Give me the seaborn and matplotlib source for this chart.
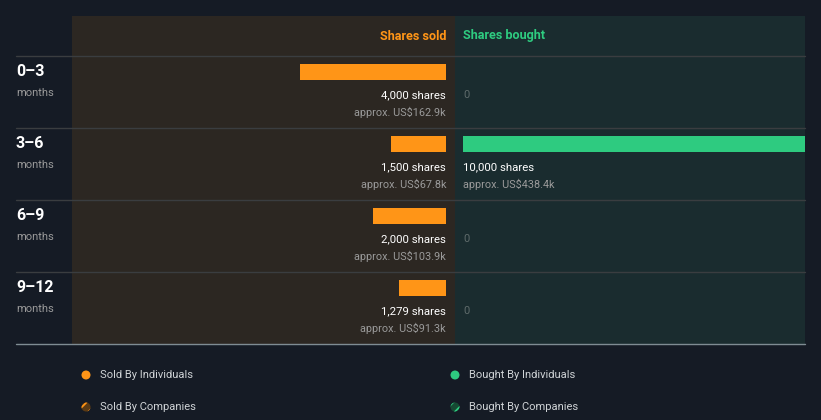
import matplotlib
matplotlib.use("Agg")
import matplotlib.pyplot as plt
import seaborn as sns
import pandas as pd
from matplotlib.patches import Circle

# ---- data ----
periods = ["0\u20133", "3\u20136", "6\u20139", "9\u201312"]
shares_sold = [4000, 1500, 2000, 1279]
value_sold_k = [162.9, 67.8, 103.9, 91.3]
shares_bought = [0, 10000, 0, 0]
value_bought_k = [0, 438.4, 0, 0]
legend_labels = ["Sold By Individuals", "Bought By Individuals",
                 "Sold By Companies", "Bought By Companies"]

# ---- style ----
BG = "#151b25"
SOLD_BG = "#2c2722"
BOUGHT_BG = "#1a2c2f"
ORANGE = "#ff9517"
GREEN = "#2ecb80"
WHITE = "#ffffff"
GREY = "#9a9a9a"
DIM = "#5f6b6b"
SEP = "#3a3d40"

sns.set_theme(style="white")
plt.rcParams["font.family"] = ["Roboto", "DejaVu Sans"]
plt.rcParams["hatch.linewidth"] = 1.3

W, H = 821, 420
fig = plt.figure(figsize=(W / 100, H / 100), dpi=100, facecolor=BG)

def rect(x0, y0, x1, y1):
    return [x0 / W, 1 - y1 / H, (x1 - x0) / W, (y1 - y0) / H]

df = pd.DataFrame({"period": periods, "sold": shares_sold, "bought": shares_bought})

ax_s = fig.add_axes(rect(72, 16, 455, 344))
ax_b = fig.add_axes(rect(455, 16, 805, 344))

bar_w = 16 / 72
sns.barplot(data=df, x="sold", y="period", orient="h", ax=ax_s, color=ORANGE,
            width=bar_w, saturation=1, linewidth=0)
sns.barplot(data=df, x="bought", y="period", orient="h", ax=ax_b, color=GREEN,
            width=bar_w, saturation=1, linewidth=0)

# scales: sold 0 at px 446, 4000 at px 300; bought 0 at px 463, 10000 at px 805
s_scale = 146 / 4000
ax_s.set_xlim(4000 + (300 - 72) / s_scale, -(455 - 446) / s_scale)
b_scale = 342 / 10000
ax_b.set_xlim(-(463 - 455) / b_scale, 10000)

ylo, yhi = 4 - 16 / 72, -16 / 72 - 40 / 72
for ax, bg in ((ax_s, SOLD_BG), (ax_b, BOUGHT_BG)):
    ax.set_ylim(ylo, yhi)
    ax.set_facecolor(bg)
    ax.set_xlabel("")
    ax.set_ylabel("")
    ax.set_xticks([])
    ax.set_yticks([])
    for sp in ax.spines.values():
        sp.set_visible(False)

hdr_y = -16 / 72 - 20 / 72
ax_s.text(0, hdr_y, "Shares sold", color=ORANGE, fontsize=9.1, fontweight="bold",
          ha="right", va="center")
ax_b.text(0, hdr_y, "Shares bought", color=GREEN, fontsize=9.1, fontweight="bold",
          ha="left", va="center")

for i in range(len(periods)):
    y1 = i + 23 / 72
    y2 = i + 40.5 / 72
    ax_s.text(0, y1, f"{shares_sold[i]:,} shares", color=WHITE, fontsize=8.2,
              ha="right", va="center")
    ax_s.text(0, y2, f"approx. US${value_sold_k[i]}k", color=GREY, fontsize=7.8,
              ha="right", va="center")
    if shares_bought[i] > 0:
        ax_b.text(0, y1, f"{shares_bought[i]:,} shares", color=WHITE, fontsize=8.2,
                  ha="left", va="center")
        ax_b.text(0, y2, f"approx. US${value_bought_k[i]}k", color=GREY, fontsize=7.8,
                  ha="left", va="center")
    else:
        ax_b.text(0, y1, "0", color=DIM, fontsize=8, ha="left", va="center")

# ---- overlay for row labels, separators, legend ----
ov = fig.add_axes([0, 0, 1, 1])
ov.set_xlim(0, W)
ov.set_ylim(H, 0)
ov.axis("off")

for i, p in enumerate(periods):
    top = 56 + 72 * i
    ov.plot([16, 805], [top, top], color=SEP, lw=1)
    ov.text(16, top + 15.5, p, color=WHITE, fontsize=11.5, fontweight="bold",
            ha="left", va="center")
    ov.text(16, top + 37, "months", color=GREY, fontsize=8, ha="left", va="center")
ov.plot([16, 805], [344, 344], color="#7f8c93", lw=1)

leg_pos = [(86, 375), (455, 375), (86, 407), (455, 407)]
leg_col = [ORANGE, GREEN, ORANGE, GREEN]
leg_dark = ["#5a3a14", "#164a33"]
for k, (lab, (x, y), c) in enumerate(zip(legend_labels, leg_pos, leg_col)):
    if k < 2:
        ov.add_patch(Circle((x, y), 4.5, facecolor=c, edgecolor="none"))
    else:
        ov.add_patch(Circle((x, y), 4.5, facecolor=leg_dark[k - 2], edgecolor=c,
                            hatch="///", lw=0))
    ov.text(x + 14, y + 0.5, lab, color="#cfd3d6", fontsize=8, ha="left", va="center")

fig.savefig("out.png", dpi=100, facecolor=BG)
